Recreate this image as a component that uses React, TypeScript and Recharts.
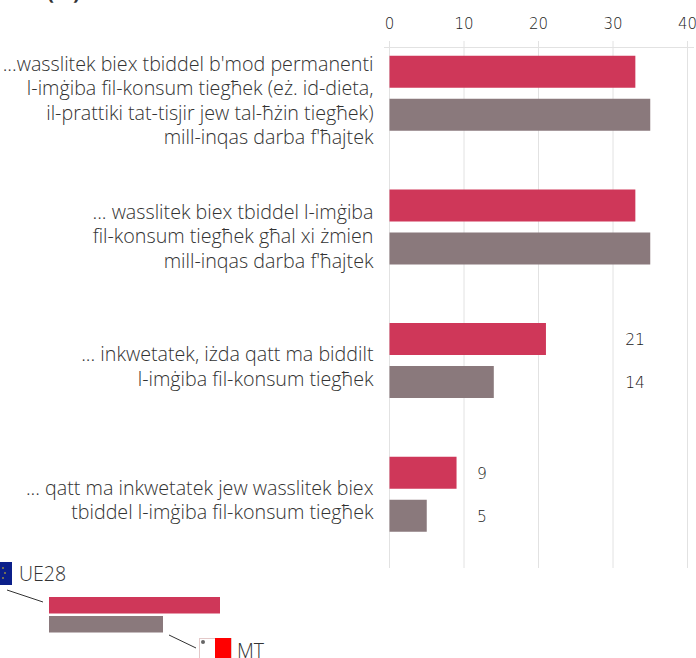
import React from 'react';
import { BarChart, Bar, XAxis, YAxis, CartesianGrid, LabelList } from 'recharts';

const categories = [
  "...wasslitek biex tbiddel b'mod permanenti\nl-imġiba fil-konsum tiegħek (eż. id-dieta,\nil-prattiki tat-tisjir jew tal-ħżin tiegħek)\nmill-inqas darba f'ħajtek",
  "... wasslitek biex tbiddel l-imġiba\nfil-konsum tiegħek għal xi żmien\nmill-inqas darba f'ħajtek",
  '... inkwetatek, iżda qatt ma biddilt\nl-imġiba fil-konsum tiegħek',
  '... qatt ma inkwetatek jew wasslitek biex\ntbiddel l-imġiba fil-konsum tiegħek',
];
const ue28 = [33, 33, 21, 9];
const mt = [35, 35, 14, 5];
const xTicks = [0, 10, 20, 30, 40];

const chartData = categories.map((name, i) => ({ name, ue28: ue28[i], mt: mt[i] }));

const FONT = '"Open Sans", sans-serif';
const NUM_FONT = '"DejaVu Sans", sans-serif';
const TEXT = '#333333';
const RED = '#cf3759';
const GREY = '#8a797c';

const CategoryTick = ({ x, y, payload }: any) => {
  const lines = String(payload.value).split('\n');
  const drop = lines.length === 3 ? 16 : lines.length === 4 ? 14 : 12.5;
  const start = y + drop - ((lines.length - 1) * 24.3) / 2;
  return (
    <text x={x} y={start} textAnchor="end" fontFamily={FONT} fontWeight={300} fontSize={19.7} fill={TEXT}>
      {lines.map((l, i) => (
        <tspan key={i} x={x} y={start + i * 24.3}>{l}</tspan>
      ))}
    </text>
  );
};

// only the two lower rows carry labels, lined up in one column per row
const renderLabel = (props: any) => {
  const { x, y, height, value, index } = props;
  if (index < 2) return null;
  const shift = index === 2 ? 245.5 : 92.5;
  return (
    <text x={x + shift} y={y + height / 2 + 6} textAnchor="middle" fontFamily={NUM_FONT} fontWeight={200} fontSize={15.5} fill="#222222">
      {value}
    </text>
  );
};

const Decorations = () => (
  <svg width={696} height={658} style={{ position: 'absolute', left: 0, top: 0 }}>
    <line x1={384} x2={694} y1={47.5} y2={47.5} stroke="#e2e2e2" />
    <text x={47} y={-1} fontFamily={FONT} fontWeight={700} fontSize={21} fill={TEXT}>(%)</text>

    <rect x={-10} y={562} width={22} height={23} fill="#0b1f8a" />
    <circle cx={3} cy={568} r={0.8} fill="#f2d21a" />
    <circle cx={5} cy={573} r={0.8} fill="#f2d21a" />
    <circle cx={3} cy={578} r={0.8} fill="#f2d21a" />
    <text x={19} y={581} fontFamily={FONT} fontWeight={300} fontSize={19.5} fill={TEXT}>UE28</text>
    <line x1={7} y1={590} x2={43} y2={602} stroke="#333" />
    <rect x={49} y={597} width={171} height={16.5} fill={RED} />
    <rect x={49} y={616} width={114} height={16.5} fill={GREY} />
    <line x1={169} y1={635} x2={196} y2={648} stroke="#333" />
    <rect x={199.5} y={638.5} width={32} height={20} fill="#fff" stroke="#e3c9c9" />
    <rect x={215} y={638} width={16} height={20} fill="#ff0000" />
    <circle cx={203} cy={642} r={2} fill="#666" />
    <text x={237} y={658} fontFamily={FONT} fontWeight={300} fontSize={19.5} fill={TEXT}>MT</text>
  </svg>
);

export default function App() {
  return (
    <div style={{ position: 'absolute', left: 0, top: 0, width: 696, height: 658, overflow: 'hidden' }}>
      <div style={{ position: 'absolute', left: 0, top: 0 }}>
        <BarChart
          width={696}
          height={658}
          data={chartData}
          layout="vertical"
          margin={{ top: 17, right: 8.5, bottom: 90, left: 0 }}
          barSize={32}
          barGap={11}
        >
          <CartesianGrid horizontal={false} stroke="#e2e2e2" />
          <XAxis
            type="number"
            orientation="top"
            height={30}
            domain={[0, 40]}
            ticks={xTicks}
            tickSize={6}
            tickMargin={12}
            axisLine={false}
            tickLine={{ stroke: '#e2e2e2' }}
            tick={{ fontFamily: NUM_FONT, fontWeight: 200, fontSize: 15, fill: '#222222' }}
          />
          <YAxis
            type="category"
            dataKey="name"
            width={389.5}
            axisLine={false}
            tickLine={false}
            interval={0}
            tickMargin={0}
            tickSize={16}
            padding={{ top: -20.3, bottom: 6.6 }}
            tick={<CategoryTick />}
          />
          <Bar dataKey="ue28" fill={RED} isAnimationActive={false}>
            <LabelList dataKey="ue28" content={renderLabel} />
          </Bar>
          <Bar dataKey="mt" fill={GREY} isAnimationActive={false}>
            <LabelList dataKey="mt" content={renderLabel} />
          </Bar>
        </BarChart>
      </div>
      <Decorations />
    </div>
  );
}
